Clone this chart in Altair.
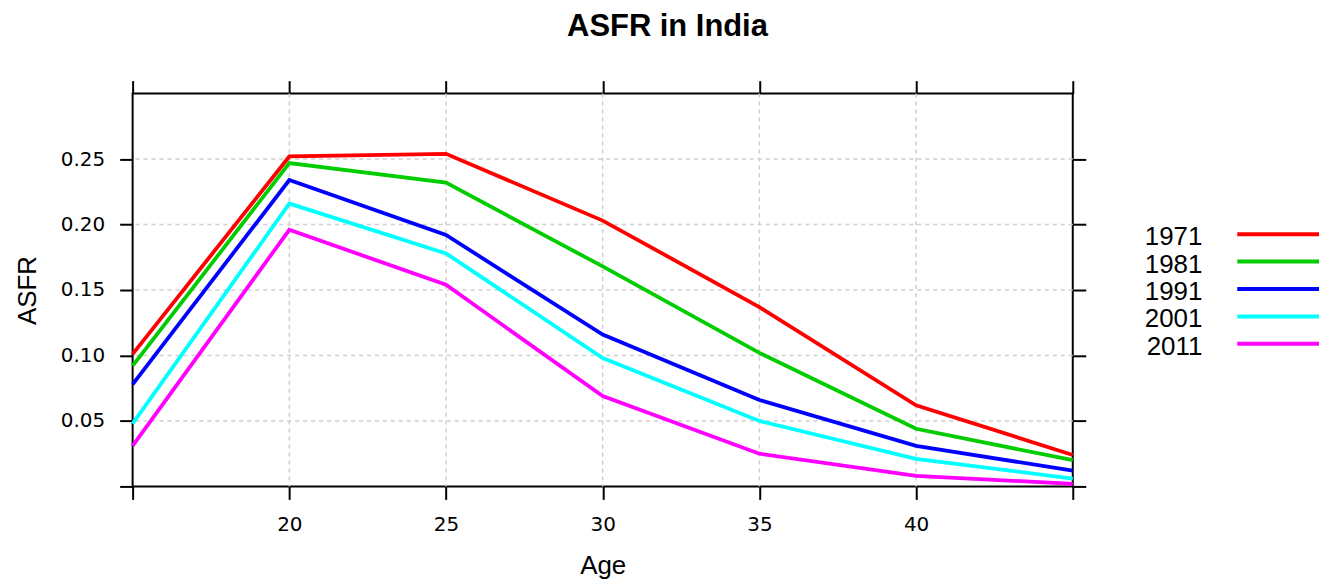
import altair as alt
import pandas as pd

# ---- data ----
ages = [15, 20, 25, 30, 35, 40, 45]
years = ["1971", "1981", "1991", "2001", "2011"]
asfr_1971 = [0.101, 0.252, 0.254, 0.203, 0.137, 0.062, 0.024]
asfr_1981 = [0.092, 0.247, 0.232, 0.168, 0.102, 0.044, 0.020]
asfr_1991 = [0.078, 0.234, 0.192, 0.116, 0.066, 0.031, 0.012]
asfr_2001 = [0.048, 0.216, 0.178, 0.098, 0.050, 0.021, 0.006]
asfr_2011 = [0.031, 0.196, 0.154, 0.069, 0.025, 0.008, 0.002]
colors = ["#FF0000", "#00CC00", "#0000FF", "#00FFFF", "#FF00FF"]

x_ticks = [15, 20, 25, 30, 35, 40, 45]
x_grid = [20, 25, 30, 35, 40]
y_ticks = [0.0, 0.05, 0.10, 0.15, 0.20, 0.25]
y_grid = [0.05, 0.10, 0.15, 0.20, 0.25]

series = [asfr_1971, asfr_1981, asfr_1991, asfr_2001, asfr_2011]
rows = []
for yr, vals in zip(years, series):
    for a, v in zip(ages, vals):
        rows.append({"Age": a, "ASFR": v, "Year": yr})
df = pd.DataFrame(rows)
df_xg = pd.DataFrame({"gx": x_grid})
df_yg = pd.DataFrame({"gy": y_grid})
df_leg = pd.DataFrame({"Year": years})

LABEL_FONT = "DejaVu Sans"
TITLE_FONT = "Liberation Sans"

xscale = alt.Scale(domain=[15, 45], nice=False, zero=False)
yscale = alt.Scale(domain=[0, 0.3], nice=False, zero=False)
cscale = alt.Scale(domain=years, range=colors)

tick_common = dict(
    domain=False, grid=False, ticks=True, tickSize=13, tickWidth=2,
    tickColor="black",
)

x_bottom = alt.Axis(
    orient="bottom", values=x_ticks, title="Age",
    labelExpr="(datum.value == 15 || datum.value == 45) ? '' : datum.label",
    labelFont=LABEL_FONT, labelFontSize=20, labelColor="black",
    labelPadding=15, titleFont=TITLE_FONT, titleFontSize=26,
    titleFontWeight="normal", titleColor="black", titlePadding=18,
    **tick_common,
)
y_left = alt.Axis(
    orient="left", values=y_ticks, title="ASFR", format=".2f",
    labelExpr="datum.value == 0 ? '' : datum.label",
    labelFont=LABEL_FONT, labelFontSize=20, labelColor="black",
    labelPadding=15, titleFont=TITLE_FONT, titleFontSize=26,
    titleFontWeight="normal", titleColor="black", titlePadding=20,
    **tick_common,
)
x_top = alt.Axis(orient="top", values=x_ticks, labels=False, title=None, **tick_common)
y_right = alt.Axis(orient="right", values=y_ticks, labels=False, title=None, **tick_common)

grid_x = alt.Chart(df_xg).mark_rule(
    color="#cfcfcf", strokeWidth=1.5, strokeDash=[4, 4]
).encode(x=alt.X("gx:Q", scale=xscale, axis=x_top))

grid_y = alt.Chart(df_yg).mark_rule(
    color="#cfcfcf", strokeWidth=1.5, strokeDash=[4, 4]
).encode(y=alt.Y("gy:Q", scale=yscale, axis=y_right))

lines = alt.Chart(df).mark_line(strokeWidth=3.8, strokeCap="butt").encode(
    x=alt.X("Age:Q", scale=xscale, axis=x_bottom),
    y=alt.Y("ASFR:Q", scale=yscale, axis=y_left),
    color=alt.Color("Year:N", scale=cscale, legend=None),
    detail="Year:N",
)

main = alt.layer(grid_x, grid_y, lines).resolve_axis(
    x="independent", y="independent"
).properties(
    width=943, height=394,
    view=alt.ViewBackground(stroke="black", strokeWidth=2),
)

leg_y = alt.Scale(type="point", domain=years, range=[141, 251], padding=0)
leg_text = alt.Chart(df_leg).mark_text(
    align="right", baseline="middle", font=TITLE_FONT, fontSize=26,
    color="black", dy=3,
).encode(
    y=alt.Y("Year:N", scale=leg_y, axis=None),
    x=alt.value(114),
    text="Year:N",
)
leg_rule = alt.Chart(df_leg).mark_rule(strokeWidth=4, strokeCap="butt").encode(
    y=alt.Y("Year:N", scale=leg_y, axis=None),
    x=alt.value(149), x2=alt.value(231),
    color=alt.Color("Year:N", scale=cscale, legend=None),
)
legend = alt.layer(leg_rule, leg_text).properties(
    width=231, height=394,
    view=alt.ViewBackground(stroke="transparent"),
)

chart = alt.hconcat(main, legend, spacing=0).properties(
    title=alt.TitleParams(
        "ASFR in India", font=TITLE_FONT, fontSize=31, fontWeight="bold",
        color="black", anchor="middle", offset=36,
    ),
    padding={"left": 5, "top": 2, "right": 5, "bottom": 0},
).configure_view(stroke="transparent")

chart.save("out.html", embed_options={"renderer": "svg", "actions": False})
